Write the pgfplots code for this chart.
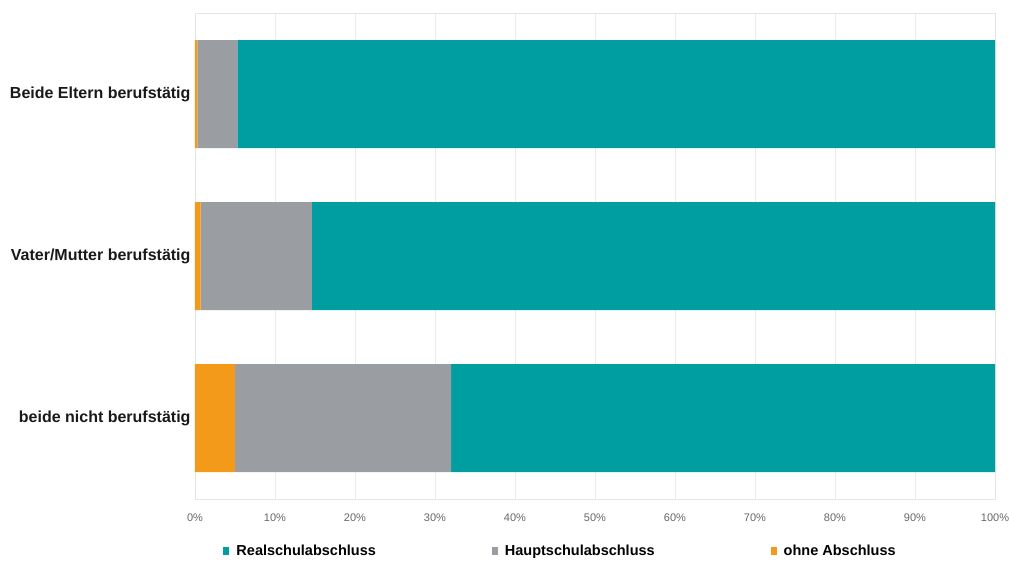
\documentclass[border=0pt]{standalone}
\usepackage{pgfplots}
\pgfplotsset{compat=1.18}
\usepackage{fontspec}
\setmainfont{Liberation Sans}
\definecolor{realc}{RGB}{0,158,160}
\definecolor{hauptc}{RGB}{154,157,161}
\definecolor{ohnec}{RGB}{243,154,27}
\begin{document}
\begin{tikzpicture}
\useasboundingbox (-195bp,-73bp) rectangle (814bp,499bp);
\begin{axis}[
  at={(0,0)}, anchor=south west,
  scale only axis, width=800bp, height=486bp,
  xbar stacked, bar width=108bp,
  xmin=0, xmax=100, ymin=-0.5, ymax=2.5, y dir=reverse,
  ytick={0,1,2},
  yticklabels={Beide Eltern berufstätig, Vater/Mutter berufstätig, beide nicht berufstätig},
  yticklabel style={font=\fontsize{16bp}{18bp}\selectfont\bfseries, text=black!90, xshift=-1bp},
  xtick={0,10,...,100},
  xticklabel={\pgfmathprintnumber{\tick}\%},
  xticklabel style={font=\fontsize{11bp}{13bp}\selectfont, text=black!60, yshift=-11bp},
  /pgf/number format/assume math mode=true,
  major tick length=0pt,
  xmajorgrids, grid style={draw=black!8},
  axis line style={draw=black!10},
  legend style={at={(0.457,-0.107)}, anchor=center, draw=none, fill=none,
    legend columns=3, font=\fontsize{14.5bp}{16bp}\selectfont\bfseries,
    /tikz/every even column/.append style={column sep=114bp},
    legend cell align=left},
  legend image code/.code={\fill[#1] (0bp,-4bp) rectangle (6bp,4bp); \path (11bp,0bp);},
]
\addplot[fill=ohnec, draw=none, forget plot] coordinates {(0.3,0) (0.7,1) (5.0,2)};
\addplot[fill=hauptc, draw=none, forget plot] coordinates {(5.0,0) (13.9,1) (27.0,2)};
\addplot[fill=realc, draw=none, forget plot] coordinates {(94.7,0) (85.4,1) (68.0,2)};
\addlegendimage{fill=realc, draw=none}
\addlegendentry{Realschulabschluss}
\addlegendimage{fill=hauptc, draw=none}
\addlegendentry{Hauptschulabschluss}
\addlegendimage{fill=ohnec, draw=none}
\addlegendentry{ohne Abschluss}
\end{axis}
\end{tikzpicture}
\end{document}
